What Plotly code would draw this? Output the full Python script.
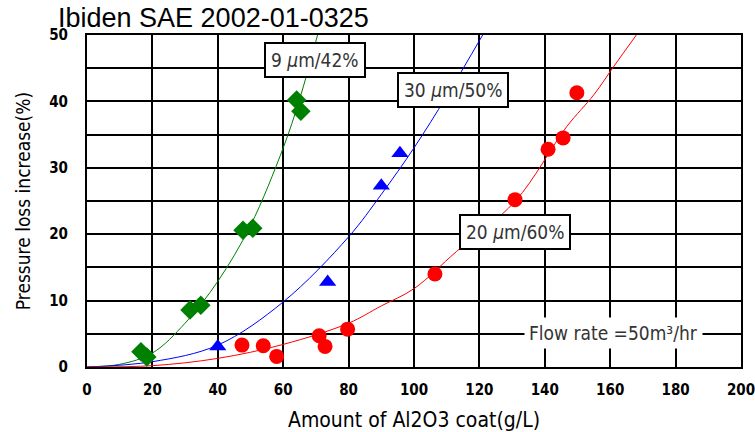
import plotly.graph_objects as go

# Measured data points
green_x = [16.5, 18.3, 31.5, 34.8, 47.7, 50.7, 64.1, 65.4]
green_y = [2.3, 1.5, 8.6, 9.3, 20.6, 20.9, 40.2, 38.5]
blue_x = [40.0, 73.6, 90.0, 95.7]
blue_y = [3.1, 12.8, 27.3, 32.2]
red_x = [47.4, 53.9, 58.0, 71.0, 72.8, 79.7, 106.4, 130.9, 141.0, 145.6, 149.8]
red_y = [3.3, 3.2, 1.6, 4.7, 3.1, 5.7, 14.0, 25.2, 32.8, 34.5, 41.3]

# Trend curves
green_cx = [0, 10, 20, 30, 40, 50, 60, 65, 70.5]
green_cy = [0, 0.4, 2.1, 6.6, 12.9, 21.3, 33.0, 40.3, 50]
blue_cx = [0, 20, 40, 60, 80, 90, 100, 110, 121]
blue_cy = [0, 0.8, 3.3, 9.8, 19.6, 26.0, 33.0, 40.8, 50]
red_cx = [0, 20, 40, 60, 80, 90, 100, 113, 131, 146.7, 155, 161, 168]
red_cy = [0, 0.2, 1.3, 3.4, 6.6, 9.2, 11.8, 17.4, 25.0, 36.2, 41.0, 45.2, 50]

x_ticks = [0, 20, 40, 60, 80, 100, 120, 140, 160, 180, 200]
y_ticks = [0, 10, 20, 30, 40, 50]

GREEN, BLUE, RED = "#008000", "#0000ff", "#ff0000"
COND = "DejaVu Sans Condensed, DejaVu Sans"

fig = go.Figure()
for cx, cy, c in [(green_cx, green_cy, GREEN), (blue_cx, blue_cy, BLUE), (red_cx, red_cy, RED)]:
    fig.add_trace(go.Scatter(x=cx, y=cy, mode="lines", line=dict(color=c, width=1, shape="spline"),
                             hoverinfo="skip", showlegend=False))

fig.add_trace(go.Scatter(x=green_x, y=green_y, mode="markers",
                         marker=dict(symbol="diamond", size=15, color=GREEN), showlegend=False))
fig.add_trace(go.Scatter(x=blue_x, y=blue_y, mode="markers",
                         marker=dict(symbol="triangle-up", size=15, color=BLUE), showlegend=False))
fig.add_trace(go.Scatter(x=red_x, y=red_y, mode="markers",
                         marker=dict(symbol="circle", size=15, color=RED), showlegend=False))

lab_font = dict(family=COND, size=19, color="#333333")
box = dict(bordercolor="black", borderwidth=2, bgcolor="white", borderpad=5, showarrow=False, font=lab_font)
fig.add_annotation(x=69.8, y=46.2, text="9 <i>μ</i>m/42%", **box)
fig.add_annotation(x=112, y=41.7, text="30 <i>μ</i>m/50%", **box)
fig.add_annotation(x=131, y=20.3, text="20 <i>μ</i>m/60%", **box)
fig.add_annotation(x=161, y=5.1, text="Flow rate =50m³/hr", showarrow=False, bgcolor="white",
                   borderpad=4, font=dict(family=COND, size=19, color="#333333"))

tick_font = dict(family=COND, size=15, color="black", weight="bold")
fig.update_xaxes(range=[0, 200], tickvals=x_ticks, showgrid=True, gridcolor="black", gridwidth=1.5,
                 showline=True, linecolor="black", linewidth=2, mirror=True, zeroline=False,
                 ticks="", tickfont=tick_font, automargin=False, ticklabelstandoff=8,
                 ticklabeloverflow="allow",
                 title=dict(text="Amount of Al2O3 coat(g/L)", font=dict(family=COND, size=21, color="black"), standoff=14))
fig.update_yaxes(range=[0, 50], tickvals=y_ticks, showgrid=True, gridcolor="black", gridwidth=1.5,
                 minor=dict(dtick=5, showgrid=True, gridcolor="black", gridwidth=1.5),
                 showline=True, linecolor="black", linewidth=2, mirror=True, zeroline=False,
                 ticks="", tickfont=tick_font, automargin=False, ticklabelstandoff=14,
                 ticklabeloverflow="allow",
                 title=dict(text="Pressure loss increase(%)", font=dict(family=COND, size=19, color="black"), standoff=14))

fig.update_layout(
    width=755, height=432,
    margin=dict(l=87, r=14, t=35, b=65),
    paper_bgcolor="white", plot_bgcolor="white",
    title=dict(text="Ibiden SAE 2002-01-0325", x=58/755, xanchor="left", xref="container",
               y=1 - 18/432, yanchor="middle", yref="container",
               font=dict(family="Liberation Sans", size=27, color="black")),
)

fig.write_html("out.html")
